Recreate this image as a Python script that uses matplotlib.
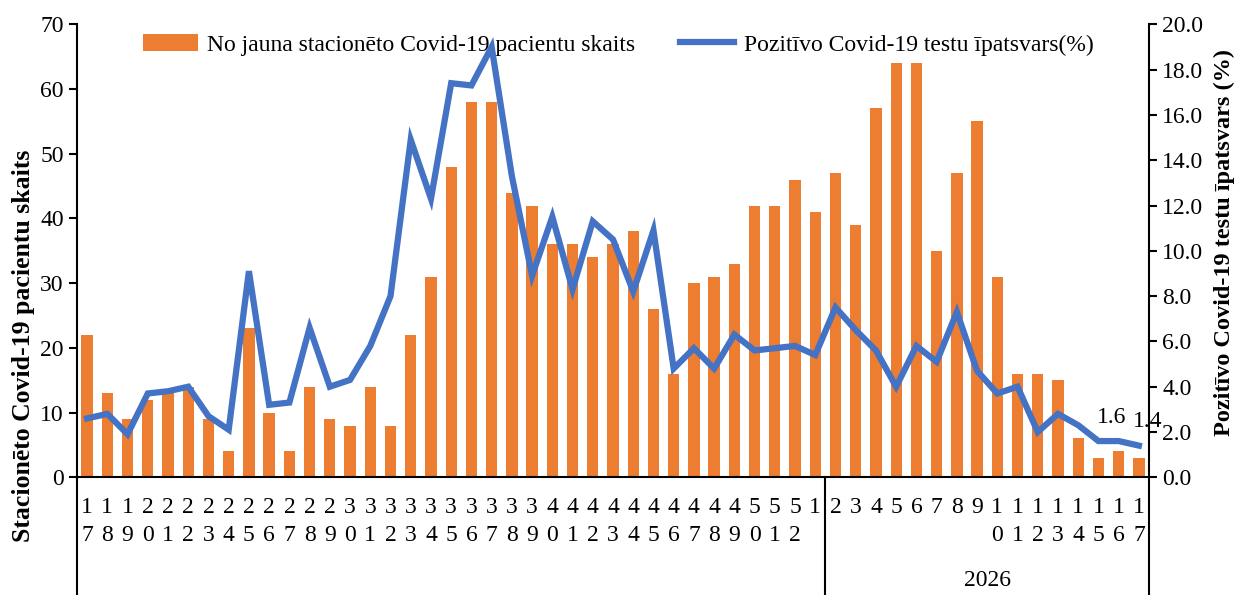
import matplotlib
matplotlib.use("Agg")
import matplotlib.pyplot as plt
from matplotlib.lines import Line2D
from matplotlib.patches import Patch
import numpy as np

plt.rcParams['font.family'] = ['Liberation Serif', 'DejaVu Serif']

weeks = [17, 18, 19, 20, 21, 22, 23, 24, 25, 26, 27, 28, 29, 30, 31, 32, 33, 34, 35,
         36, 37, 38, 39, 40, 41, 42, 43, 44, 45, 46, 47, 48, 49, 50, 51, 52,
         1, 2, 3, 4, 5, 6, 7, 8, 9, 10, 11, 12, 13, 14, 15, 16, 17]
patients = [22, 13, 9, 12, 13, 14, 9, 4, 23, 10, 4, 14, 9, 8, 14, 8, 22, 31, 48,
            58, 58, 44, 42, 36, 36, 34, 36, 38, 26, 16, 30, 31, 33, 42, 42, 46,
            41, 47, 39, 57, 64, 64, 35, 47, 55, 31, 16, 16, 15, 6, 3, 4, 3]
positive_pct = [2.6, 2.8, 1.9, 3.7, 3.8, 4.0, 2.7, 2.1, 9.1, 3.2, 3.3, 6.6, 4.0, 4.3, 5.8, 8.0, 14.9, 12.3, 17.4,
                17.3, 19.0, 13.3, 8.9, 11.5, 8.3, 11.3, 10.5, 8.2, 10.9, 4.8, 5.7, 4.8, 6.3, 5.6, 5.7, 5.8,
                5.4, 7.5, 6.5, 5.6, 4.0, 5.8, 5.1, 7.3, 4.7, 3.7, 4.0, 2.0, 2.8, 2.3, 1.6, 1.6, 1.4]
group_label = "2026"
group_start = 37  # index of week 2 (2026 group in the category axis)

bar_label = "No jauna stacionēto Covid-19 pacientu skaits"
line_label = "Pozitīvo Covid-19 testu īpatsvars(%)"
left_ylabel = "Stacionēto Covid-19 pacientu skaits"
right_ylabel = "Pozitīvo Covid-19 testu īpatsvars (%)"

BAR_C = '#ED7D31'
LINE_C = '#4472C4'
FS = 17

fig = plt.figure(figsize=(12.38, 5.95), dpi=100)
ax = fig.add_axes([77/1238, (595-477.3)/595, (1149-77)/1238, (477.3-24.3)/595])
x = np.arange(len(weeks))
ax.bar(x, patients, width=0.56, color=BAR_C, zorder=2)
ax.set_xlim(-0.5, len(weeks) - 0.5)
ax.set_ylim(0, 70)
ax.set_yticks(range(0, 71, 10))
ax.set_xticks(x)
ax.set_xticklabels(["\n".join(str(w)) for w in weeks], fontsize=FS, linespacing=1.45, va='top')
ax.tick_params(axis='x', length=0, pad=14)
ax.tick_params(axis='y', labelsize=FS, direction='out', length=6, width=1.5)
for s in ['top', 'right']:
    ax.spines[s].set_visible(False)
ax.spines['left'].set_linewidth(1.5)
ax.spines['bottom'].set_linewidth(1.5)

ax2 = ax.twinx()
ax2.plot(x, positive_pct, color=LINE_C, lw=4.5, zorder=3, solid_joinstyle='miter')
ax2.set_ylim(0, 20)
ax2.set_yticks(np.arange(0, 20.1, 2))
ax2.set_yticklabels([f"{v:.1f}" for v in np.arange(0, 20.1, 2)])
ax2.tick_params(axis='y', labelsize=FS, direction='out', length=6, width=1.5)
for s in ['top', 'left', 'bottom']:
    ax2.spines[s].set_visible(False)
ax2.spines['right'].set_linewidth(1.5)

# data labels on last two points
ax2.annotate(f"{positive_pct[-2]:.1f}", (x[-2], positive_pct[-2]), xytext=(-5, 17),
             textcoords='offset points', ha='center', va='center', fontsize=FS)
ax2.annotate(f"{positive_pct[-1]:.1f}", (x[-1], positive_pct[-1]), xytext=(6, 17),
             textcoords='offset points', ha='center', va='center', fontsize=FS)

# axis labels
fig.text(24/1238, (595-346)/595, left_ylabel, rotation=90, ha='center', va='center',
         fontsize=18.5, fontweight='bold')
fig.text(1224/1238, (595-243)/595, right_ylabel, rotation=90, ha='center', va='center',
         fontsize=17.5, fontweight='bold')

# category group lines below axis
trans = ax.get_xaxis_transform()
for xv in [-0.5, group_start - 0.5, len(weeks) - 0.5]:
    ax.add_line(Line2D([xv, xv], [0, -0.3], transform=trans, color='black', lw=1.5, clip_on=False))
ax.text((group_start - 0.5 + len(weeks) - 0.5) / 2, -0.227, group_label, transform=trans,
        ha='center', va='center', fontsize=FS)

# legend
handles = [Patch(facecolor=BAR_C, edgecolor='none'), Line2D([0], [0], color=LINE_C, lw=4.5)]
leg = ax.legend(handles, [bar_label, line_label], loc='upper center', bbox_to_anchor=(0.505, 1.025),
                ncol=2, frameon=False, fontsize=FS, handlelength=2.3, handleheight=0.7,
                handletextpad=0.4, columnspacing=1.9)
leg.set_zorder(5)

fig.savefig("out.png", dpi=100)
